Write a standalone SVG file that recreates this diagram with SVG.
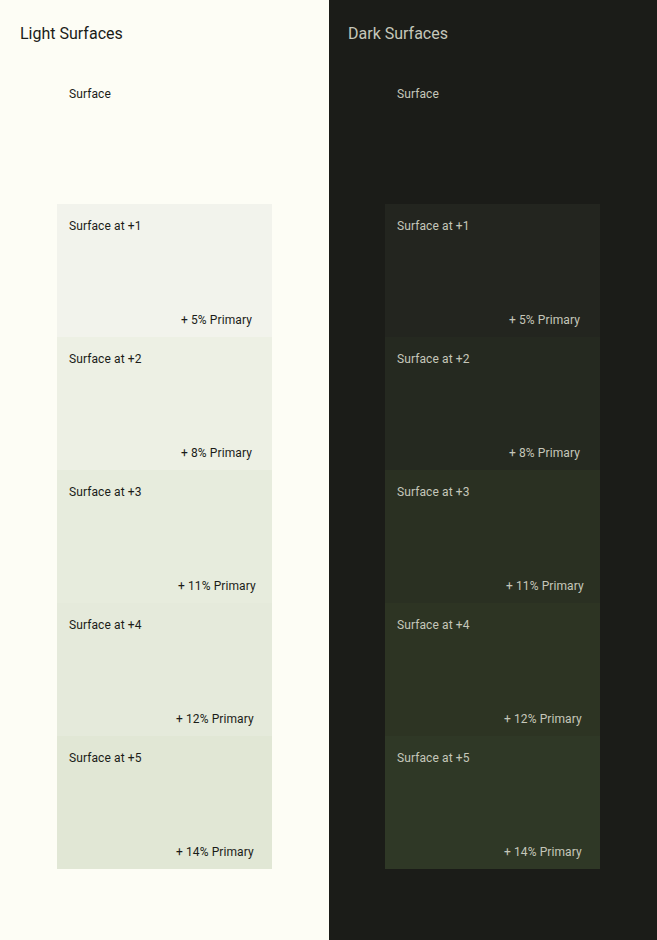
<svg xmlns="http://www.w3.org/2000/svg" width="657" height="940" viewBox="0 0 657 940">
<style>
.t{font-family:Roboto,"Liberation Sans",sans-serif;font-size:16px}
.l{font-family:Roboto,"Liberation Sans",sans-serif;font-size:12px;letter-spacing:0.1px}
.lt{fill:#1B1C18}
.dk{fill:#C5C7BA}
</style>
<rect x="0" y="0" width="329" height="940" fill="#FDFDF5"/>
<rect x="329" y="0" width="328" height="940" fill="#1B1C18"/>
<text class="t lt" x="20" y="38.5">Light Surfaces</text>
<text class="t dk" x="348" y="38.5">Dark Surfaces</text>
<g id="light-surface"><rect x="57" y="71" width="215" height="133" fill="#FDFDF5"/><text class="l lt" x="69" y="97.5">Surface</text></g>
<g id="light-1"><rect x="57" y="204" width="215" height="133" fill="#F2F3EC"/><text class="l lt" x="69" y="229.5">Surface at +1</text><text class="l lt" x="181" y="323.5">+ 5% Primary</text></g>
<g id="light-2"><rect x="57" y="337" width="215" height="133" fill="#EDF0E4"/><text class="l lt" x="69" y="362.5">Surface at +2</text><text class="l lt" x="181" y="456.5">+ 8% Primary</text></g>
<g id="light-3"><rect x="57" y="470" width="215" height="133" fill="#E7ECDD"/><text class="l lt" x="69" y="495.5">Surface at +3</text><text class="l lt" x="178" y="589.5">+ 11% Primary</text></g>
<g id="light-4"><rect x="57" y="603" width="215" height="133" fill="#E5EADB"/><text class="l lt" x="69" y="628.5">Surface at +4</text><text class="l lt" x="176" y="722.5">+ 12% Primary</text></g>
<g id="light-5"><rect x="57" y="736" width="215" height="133" fill="#E1E7D5"/><text class="l lt" x="69" y="761.5">Surface at +5</text><text class="l lt" x="176" y="855.5">+ 14% Primary</text></g>
<g id="dark-surface"><rect x="385" y="71" width="215" height="133" fill="#1B1C18"/><text class="l dk" x="397" y="97.5">Surface</text></g>
<g id="dark-1"><rect x="385" y="204" width="215" height="133" fill="#23251F"/><text class="l dk" x="397" y="229.5">Surface at +1</text><text class="l dk" x="509" y="323.5">+ 5% Primary</text></g>
<g id="dark-2"><rect x="385" y="337" width="215" height="133" fill="#252920"/><text class="l dk" x="397" y="362.5">Surface at +2</text><text class="l dk" x="509" y="456.5">+ 8% Primary</text></g>
<g id="dark-3"><rect x="385" y="470" width="215" height="133" fill="#2A3022"/><text class="l dk" x="397" y="495.5">Surface at +3</text><text class="l dk" x="506" y="589.5">+ 11% Primary</text></g>
<g id="dark-4"><rect x="385" y="603" width="215" height="133" fill="#2D3423"/><text class="l dk" x="397" y="628.5">Surface at +4</text><text class="l dk" x="504" y="722.5">+ 12% Primary</text></g>
<g id="dark-5"><rect x="385" y="736" width="215" height="133" fill="#2F3826"/><text class="l dk" x="397" y="761.5">Surface at +5</text><text class="l dk" x="504" y="855.5">+ 14% Primary</text></g>
<g id="connectors"/>
</svg>
